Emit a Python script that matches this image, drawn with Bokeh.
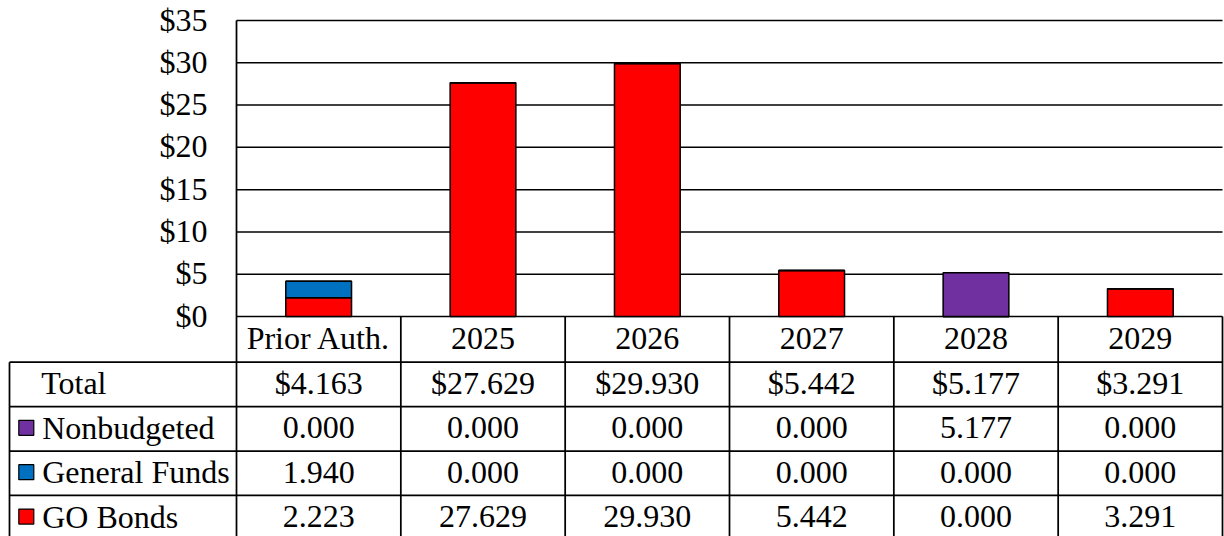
from bokeh.plotting import figure
from bokeh.models import Range1d, ColumnDataSource
from bokeh.core.properties import value
from bokeh.embed import file_html
from bokeh.resources import INLINE

# ---------------- data ----------------
categories = ["Prior Auth.", "2025", "2026", "2027", "2028", "2029"]
go_bonds = [2.223, 27.629, 29.930, 5.442, 0.000, 3.291]
general_funds = [1.940, 0.000, 0.000, 0.000, 0.000, 0.000]
nonbudgeted = [0.000, 0.000, 0.000, 0.000, 5.177, 0.000]
series_names = ["Nonbudgeted", "General Funds", "GO Bonds"]
series_colors = ["#7030A0", "#0070C0", "#FF0000"]
y_ticks = [0, 5, 10, 15, 20, 25, 30, 35]
y_tick_labels = ["$0", "$5", "$10", "$15", "$20", "$25", "$30", "$35"]

totals = [g + f + n for g, f, n in zip(go_bonds, general_funds, nonbudgeted)]

# ---------------- layout constants (pixels) ----------------
FONT = value("Liberation Serif")
FSIZE = value("32px")
W, H = 1224, 536
LEFT_PX = 236               # left edge of the plot area
COL_PX = 986 / 6            # pixels per category column
ZERO_PX = 316               # px (from top) of the $0 line
Y_PX = 296 / 35             # pixels per $1
HDR_PX = 45.7               # header row height
ROW_PX = 44.4               # table row height
TXT_UP = 1                  # small upward nudge of texts, px
LINE_W = 1.75

n = len(categories)
centers = [i + 0.5 for i in range(n)]
edges = list(range(n + 1))


def px_x(x_img):           # horizontal pixel position -> data x
    return (x_img - LEFT_PX) / COL_PX


def px_y(y_img):           # vertical pixel position -> data y
    return (ZERO_PX - y_img) / Y_PX


p = figure(width=W, height=H, output_backend="svg", toolbar_location=None,
           title=None, x_range=Range1d(px_x(0), px_x(W)),
           y_range=Range1d(px_y(H), px_y(0)),
           min_border_left=0, min_border_right=0, min_border_top=0, min_border_bottom=0,
           x_axis_location=None, y_axis_location=None)
p.outline_line_color = None
p.background_fill_color = "white"
p.border_fill_color = "white"
p.grid.visible = False

# ---- value gridlines and tick labels ----
p.segment(x0=[0] * len(y_ticks), y0=y_ticks, x1=[n] * len(y_ticks), y1=y_ticks,
          line_color="black", line_width=1.5)
p.text(x=[px_x(207)] * len(y_ticks), y=[t + TXT_UP / Y_PX for t in y_ticks], text=y_tick_labels,
       text_font=FONT, text_font_size=FSIZE, text_align="right",
       text_baseline="middle", text_color="black")

# ---- bars ----
src = ColumnDataSource(dict(x=centers, go=go_bonds, gf=general_funds, nb=nonbudgeted))
p.vbar_stack(["go", "gf", "nb"], x="x", width=0.4, source=src,
             fill_color=[series_colors[2], series_colors[1], series_colors[0]],
             line_color="black", line_width=1.5)

# ---- table geometry ----
row_labels = ["Total"] + series_names
row_values = [totals, nonbudgeted, general_funds, go_bonds]
n_rows = len(row_labels)
hdr_bottom = ZERO_PX + HDR_PX
row_tops = [px_y(hdr_bottom + k * ROW_PX) for k in range(n_rows + 1)]
row_mid = [px_y(hdr_bottom + (k + 0.5) * ROW_PX - TXT_UP) for k in range(n_rows)]
hdr_mid = px_y(ZERO_PX + HDR_PX / 2 - TXT_UP)
legend_left = px_x(9)
bottom = px_y(H + 10)

# left axis line of the plot + header/table column borders
p.segment(x0=[0], y0=[max(y_ticks)], x1=[0], y1=[bottom], line_color="black", line_width=LINE_W)
p.segment(x0=edges[1:], y0=[0] * n, x1=edges[1:], y1=[bottom] * n,
          line_color="black", line_width=LINE_W)
p.segment(x0=[legend_left], y0=[row_tops[0]], x1=[legend_left], y1=[bottom],
          line_color="black", line_width=LINE_W)
# horizontal row borders
p.segment(x0=[legend_left] * len(row_tops), y0=row_tops, x1=[n] * len(row_tops), y1=row_tops,
          line_color="black", line_width=LINE_W)

# header row (category labels)
p.text(x=centers, y=[hdr_mid] * n, text=categories, text_font=FONT, text_font_size=FSIZE,
       text_align="center", text_baseline="middle", text_color="black")

# row labels with legend keys
lab_x = [px_x(40.7)] + [px_x(41.7)] * len(series_names)
p.text(x=lab_x, y=row_mid, text=row_labels, text_font=FONT, text_font_size=FSIZE,
       text_align="left", text_baseline="middle", text_color="black")
p.scatter(x=[px_x(25.8)] * len(series_names), y=row_mid[1:], marker="square",
          size=15, fill_color=series_colors, line_color="black", line_width=1.2)

# cell values
cx, cy, ct = [], [], []
for k, vals in enumerate(row_values):
    for i, v in enumerate(vals):
        cx.append(centers[i])
        cy.append(row_mid[k])
        ct.append(("${:.3f}" if k == 0 else "{:.3f}").format(v))
p.text(x=cx, y=cy, text=ct, text_font=FONT, text_font_size=FSIZE,
       text_align="center", text_baseline="middle", text_color="black")

open("out.html", "w").write(file_html(p, INLINE))
